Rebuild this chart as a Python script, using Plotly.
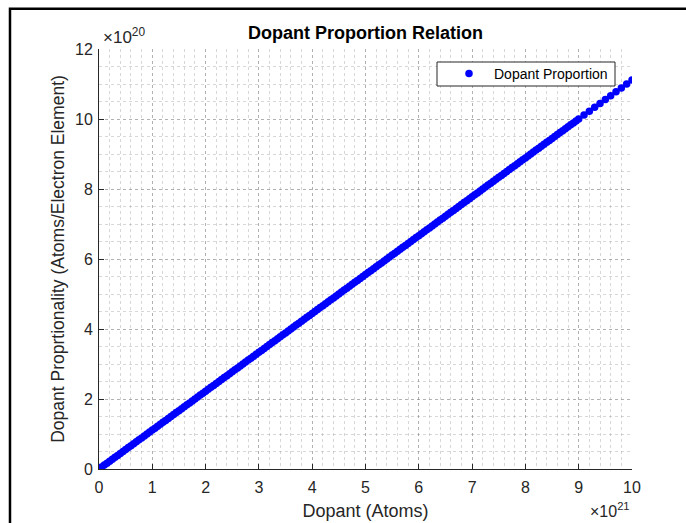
import plotly.graph_objects as go

# Dopant amount (units of 1e21 atoms)
dopant_e21 = [
    0.00, 0.05, 0.10, 0.15, 0.20, 0.25, 0.30, 0.35, 0.40, 0.45,
    0.50, 0.55, 0.60, 0.65, 0.70, 0.75, 0.80, 0.85, 0.90, 0.95,
    1.00, 1.05, 1.10, 1.15, 1.20, 1.25, 1.30, 1.35, 1.40, 1.45,
    1.50, 1.55, 1.60, 1.65, 1.70, 1.75, 1.80, 1.85, 1.90, 1.95,
    2.00, 2.05, 2.10, 2.15, 2.20, 2.25, 2.30, 2.35, 2.40, 2.45,
    2.50, 2.55, 2.60, 2.65, 2.70, 2.75, 2.80, 2.85, 2.90, 2.95,
    3.00, 3.05, 3.10, 3.15, 3.20, 3.25, 3.30, 3.35, 3.40, 3.45,
    3.50, 3.55, 3.60, 3.65, 3.70, 3.75, 3.80, 3.85, 3.90, 3.95,
    4.00, 4.05, 4.10, 4.15, 4.20, 4.25, 4.30, 4.35, 4.40, 4.45,
    4.50, 4.55, 4.60, 4.65, 4.70, 4.75, 4.80, 4.85, 4.90, 4.95,
    5.00, 5.05, 5.10, 5.15, 5.20, 5.25, 5.30, 5.35, 5.40, 5.45,
    5.50, 5.55, 5.60, 5.65, 5.70, 5.75, 5.80, 5.85, 5.90, 5.95,
    6.00, 6.05, 6.10, 6.15, 6.20, 6.25, 6.30, 6.35, 6.40, 6.45,
    6.50, 6.55, 6.60, 6.65, 6.70, 6.75, 6.80, 6.85, 6.90, 6.95,
    7.00, 7.05, 7.10, 7.15, 7.20, 7.25, 7.30, 7.35, 7.40, 7.45,
    7.50, 7.55, 7.60, 7.65, 7.70, 7.75, 7.80, 7.85, 7.90, 7.95,
    8.00, 8.05, 8.10, 8.15, 8.20, 8.25, 8.30, 8.35, 8.40, 8.45,
    8.50, 8.55, 8.60, 8.65, 8.70, 8.75, 8.80, 8.85, 8.90, 8.95,
    9.0, 9.1, 9.2, 9.3, 9.4, 9.5, 9.6, 9.7, 9.8, 9.9,
    10.0,
]

# Dopant proportionality (units of 1e20 atoms per electron element)
proportion_e20 = [
    0.000, 0.056, 0.111, 0.167, 0.222, 0.278, 0.333, 0.389, 0.444,
    0.500, 0.556, 0.611, 0.667, 0.722, 0.778, 0.833, 0.889, 0.944,
    1.000, 1.056, 1.111, 1.167, 1.222, 1.278, 1.333, 1.389, 1.444,
    1.500, 1.556, 1.611, 1.667, 1.722, 1.778, 1.833, 1.889, 1.944,
    2.000, 2.056, 2.111, 2.167, 2.222, 2.278, 2.333, 2.389, 2.444,
    2.500, 2.556, 2.611, 2.667, 2.722, 2.778, 2.833, 2.889, 2.944,
    3.000, 3.056, 3.111, 3.167, 3.222, 3.278, 3.333, 3.389, 3.444,
    3.500, 3.556, 3.611, 3.667, 3.722, 3.778, 3.833, 3.889, 3.944,
    4.000, 4.056, 4.111, 4.167, 4.222, 4.278, 4.333, 4.389, 4.444,
    4.500, 4.556, 4.611, 4.667, 4.722, 4.778, 4.833, 4.889, 4.944,
    5.000, 5.056, 5.111, 5.167, 5.222, 5.278, 5.333, 5.389, 5.444,
    5.500, 5.556, 5.611, 5.667, 5.722, 5.778, 5.833, 5.889, 5.944,
    6.000, 6.056, 6.111, 6.167, 6.222, 6.278, 6.333, 6.389, 6.444,
    6.500, 6.556, 6.611, 6.667, 6.722, 6.778, 6.833, 6.889, 6.944,
    7.000, 7.056, 7.111, 7.167, 7.222, 7.278, 7.333, 7.389, 7.444,
    7.500, 7.556, 7.611, 7.667, 7.722, 7.778, 7.833, 7.889, 7.944,
    8.000, 8.056, 8.111, 8.167, 8.222, 8.278, 8.333, 8.389, 8.444,
    8.500, 8.556, 8.611, 8.667, 8.722, 8.778, 8.833, 8.889, 8.944,
    9.000, 9.056, 9.111, 9.167, 9.222, 9.278, 9.333, 9.389, 9.444,
    9.500, 9.556, 9.611, 9.667, 9.722, 9.778, 9.833, 9.889, 9.944,
    10.000, 10.111, 10.222, 10.333, 10.444, 10.556, 10.667, 10.778, 10.889,
    11.000, 11.111,
]

x_ticks = [0, 1, 2, 3, 4, 5, 6, 7, 8, 9, 10]
y_ticks = [0, 2, 4, 6, 8, 10, 12]

FONT = "Liberation Sans, Arial, sans-serif"
AXIS_GRAY = "#262626"
GRID = "rgba(120,120,120,0.40)"
MINOR_GRID = "rgba(140,140,140,0.35)"

fig = go.Figure()
fig.add_trace(go.Scatter(
    x=dopant_e21, y=proportion_e20,
    mode="markers",
    name="Dopant Proportion",
    marker=dict(color="#0000ff", size=7.5, symbol="circle", line=dict(width=0)),
))

axis_common = dict(
    showline=True, linecolor=AXIS_GRAY, linewidth=1,
    ticks="inside", ticklen=5, tickcolor=AXIS_GRAY, tickwidth=1,
    showgrid=True, gridcolor=GRID, griddash="dot", gridwidth=1,
    zeroline=False, mirror=False, automargin=False,
    tickfont=dict(family=FONT, size=16, color=AXIS_GRAY),
)

fig.update_xaxes(
    range=[0, 10], tickvals=x_ticks, ticktext=[str(v) for v in x_ticks],
    minor=dict(dtick=0.2, showgrid=True, gridcolor=MINOR_GRID, griddash="dot", ticks=""),
    ticklabelstandoff=4,
    title=dict(text="Dopant (Atoms)", font=dict(family=FONT, size=18, color=AXIS_GRAY), standoff=9),
    **axis_common,
)
fig.update_yaxes(
    range=[0, 12], tickvals=y_ticks, ticktext=[str(v) for v in y_ticks],
    minor=dict(dtick=0.5, showgrid=True, gridcolor=MINOR_GRID, griddash="dot", ticks=""),
    ticklabelstandoff=2,
    title=dict(text="Dopant Proprtionality (Atoms/Electron Element)",
               font=dict(family=FONT, size=17.5, color=AXIS_GRAY), standoff=5),
    **axis_common,
)

# exponent labels for both axes
fig.add_annotation(
    xref="paper", yref="paper", x=0.004, y=0.999, xanchor="left", yanchor="bottom",
    text="×10<sup>20</sup>", showarrow=False,
    font=dict(family=FONT, size=17, color=AXIS_GRAY),
)
fig.add_annotation(
    xref="paper", yref="paper", x=1.0, y=-0.07, xanchor="right", yanchor="top",
    text="×10<sup>21</sup>", showarrow=False,
    font=dict(family=FONT, size=16, color=AXIS_GRAY),
)

# legend frame (white box behind the legend entry)
fig.add_shape(
    type="rect", xref="paper", yref="paper", layer="above",
    x0=(437 - 99) / 533, x1=(615 - 99) / 533,
    y0=(469 - 86) / 420, y1=(469 - 62) / 420,
    line=dict(color=AXIS_GRAY, width=1), fillcolor="white",
)

# figure window frame
fig.add_shape(
    type="rect", xref="paper", yref="paper",
    x0=-0.167, x1=1.5, y0=-0.5, y1=1.096,
    line=dict(color="black", width=2.5), fillcolor="rgba(0,0,0,0)",
)

fig.update_layout(
    width=686, height=523,
    margin=dict(l=99, r=54, t=49, b=54),
    paper_bgcolor="white", plot_bgcolor="white",
    title=dict(text="<b>Dopant Proportion Relation</b>", x=0.5, xref="paper", xanchor="center",
               y=1 - 33 / 523, yanchor="middle",
               font=dict(family=FONT, size=18, color="black")),
    showlegend=True,
    legend=dict(
        x=(444 - 99) / 533, y=(469 - 74) / 420, xanchor="left", yanchor="middle",
        bgcolor="rgba(0,0,0,0)", borderwidth=0,
        font=dict(family=FONT, size=14, color="black"),
        itemwidth=40,
    ),
)

fig.write_html("out.html")
